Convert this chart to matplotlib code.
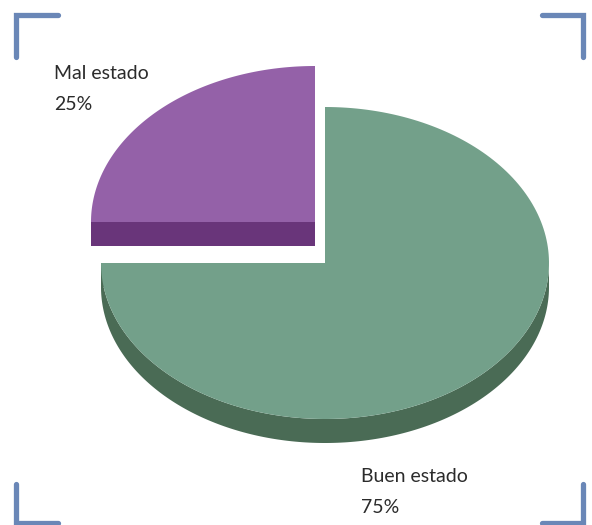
import numpy as np
import matplotlib.pyplot as plt
from matplotlib.patches import Polygon

labels = ['Mal estado', 'Buen estado']
values = [25, 75]
top_colors = ['#9461a8', '#73a08a']
side_colors = ['#69357a', '#4a6b55']

W, H = 592, 525


def arc(cx, cy, rx, ry, a1, a2, n=200):
    t = np.radians(np.linspace(a1, a2, n))
    return np.column_stack([cx + rx * np.cos(t), cy - ry * np.sin(t)])


def wedge3d(ax, cx, cy, rx, ry, depth, a1, a2, top, side):
    # radial cut faces
    for a in (a1, a2):
        p = arc(cx, cy, rx, ry, a, a, 1)[0]
        face = [(cx, cy), tuple(p), (p[0], p[1] + depth), (cx, cy + depth)]
        ax.add_patch(Polygon(face, closed=True, fc=side, ec='none'))
    # outer wall, only the front half shows
    lo, hi = max(a1, 180), min(a2, 360)
    if hi > lo:
        rim = arc(cx, cy, rx, ry, lo, hi)
        wall = np.vstack([rim, (rim + [0, depth])[::-1]])
        ax.add_patch(Polygon(wall, closed=True, fc=side, ec='none'))
    pts = np.vstack([[cx, cy], arc(cx, cy, rx, ry, a1, a2)])
    ax.add_patch(Polygon(pts, closed=True, fc=top, ec='none'))


fig = plt.figure(figsize=(W / 100, H / 100), dpi=100)
ax = fig.add_axes([0, 0, 1, 1])
ax.set_xlim(0, W)
ax.set_ylim(H, 0)
ax.axis('off')

rx, ry, depth = 224, 156, 24
centers = [(315, 222), (325, 263)]
start = 90
for lab, v, tc, sc, (cx, cy) in zip(labels, values, top_colors, side_colors, centers):
    span = 360 * v / sum(values)
    wedge3d(ax, cx, cy, rx, ry, depth, start, start + span, tc, sc)
    start += span

font = dict(family=['Lato', 'DejaVu Sans'], fontsize=14, weight='normal',
            color='#2b2b2b', va='baseline', ha='left')
ax.text(54, 79, labels[0], **font)
ax.text(54, 110, f'{values[0]}%', **font)
ax.text(361, 482, labels[1], **font)
ax.text(361, 513, f'{values[1]}%', **font)

# corner brackets
bc = '#6a87b7'
kw = dict(color=bc, lw=3.8, solid_capstyle='round', solid_joinstyle='miter')
ax.plot([58, 16, 16], [15, 15, 57], **kw)
ax.plot([542, 583, 583], [15, 15, 57], **kw)
ax.plot([16, 16, 58], [484, 523, 523], **kw)
ax.plot([583, 583, 542], [484, 523, 523], **kw)

fig.savefig('out.png', dpi=100)
